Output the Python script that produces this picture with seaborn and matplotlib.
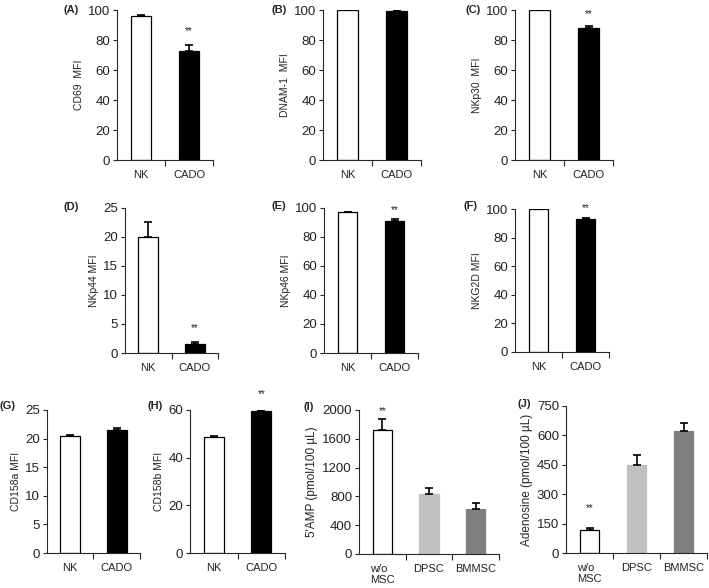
"""
Recreation of the NK receptor / adenosine bar panel figure.
"""
import numpy as np
import matplotlib
matplotlib.use("Agg")
import matplotlib.pyplot as plt
import seaborn as sns

sns.set_style("ticks")
plt.rcParams['font.family'] = ['Liberation Sans', 'DejaVu Sans']

# ---- data -----------------------------------------------------------------
cats_nk = ["NK", "CADO"]
cats_msc = ["w/o\nMSC", "DPSC", "BMMSC"]

cd69_mean, cd69_err = [96, 73], [1.0, 4.0]
dnam1_mean, dnam1_err = [100, 99.5], [0.3, 0.3]
nkp30_mean, nkp30_err = [100, 88], [0.2, 1.6]
nkp44_mean, nkp44_err = [20, 1.5], [2.6, 0.4]
nkp46_mean, nkp46_err = [97, 91], [0.3, 1.1]
nkg2d_mean, nkg2d_err = [100, 93], [0.2, 0.8]
cd158a_mean, cd158a_err = [20.4, 21.5], [0.3, 0.4]
cd158b_mean, cd158b_err = [48.5, 59.5], [0.6, 0.3]
amp_mean, amp_err = [1720, 840, 630], [150, 70, 80]
ado_mean, ado_err = [115, 450, 625], [15, 50, 40]

# which bar carries "**" (index into categories) or None
cd69_sig, dnam1_sig, nkp30_sig = 1, None, 1
nkp44_sig, nkp46_sig, nkg2d_sig = 1, 1, 1
cd158a_sig, cd158b_sig, amp_sig, ado_sig = None, 1, 0, 0

# ---- styling --------------------------------------------------------------
W, H = 709, 588
fill_nk = ["white", "black"]
edge_nk = ["black", "black"]
fill_msc = ["white", "#c0c0c0", "#7f7f7f"]
edge_msc = ["black", "#c0c0c0", "#7f7f7f"]
TXT = "#222222"


def rect(left, right, top, bottom):
    return [left / W, 1 - bottom / H, (right - left) / W, (bottom - top) / H]


def draw_panel(fig, box, letter, letter_xy, cats, means, errs, fills, edges,
               ylabel, yticks, sig, star_off, ylabel_size=7.5):
    ax = fig.add_axes(rect(*box))
    pal = dict(zip(cats, fills))
    sns.barplot(x=cats, y=means, hue=cats, palette=pal, legend=False,
                width=0.42, ax=ax, linewidth=0.9, saturation=1, errorbar=None)
    for cont, ec in zip(ax.containers, edges):
        for p in cont:
            p.set_edgecolor(ec)
    x = np.arange(len(cats))
    ax.errorbar(x, means, yerr=[np.zeros(len(errs)), errs], fmt="none",
                ecolor="black", elinewidth=1.2, capsize=3, capthick=1.2)
    ax.set_xlim(-0.5, len(cats) - 0.5)
    ax.set_ylim(0, yticks[-1])
    ax.set_yticks(yticks)
    ax.set_xticks(x)
    ax.set_xticklabels(cats, fontsize=8, color=TXT)
    ax.set_xticks(np.arange(len(cats)) + 0.5, minor=True)
    ax.tick_params(axis="x", which="major", length=0, pad=7)
    ax.tick_params(axis="x", which="minor", length=4, width=0.8, direction="out")
    ax.tick_params(axis="y", length=3, width=0.8, labelsize=9.5, pad=2,
                   labelcolor=TXT)
    for lbl in ax.get_xticklabels():
        lbl.set_multialignment("left")
    ax.set_ylabel(ylabel, fontsize=ylabel_size, labelpad=3, color=TXT)
    ax.set_xlabel("")
    sns.despine(ax=ax)
    for s in ("left", "bottom"):
        ax.spines[s].set_linewidth(0.8)
    if sig is not None:
        ax.annotate("**", xy=(sig, means[sig] + errs[sig]), xytext=(0, star_off),
                    textcoords="offset points", ha="center", va="center",
                    fontsize=7, annotation_clip=False)
    fig.text(letter_xy[0] / W, 1 - letter_xy[1] / H, letter,
             fontsize=8, fontweight="bold", ha="left", va="center")
    return ax


fig = plt.figure(figsize=(W / 100, H / 100), dpi=100)

t100 = [0, 20, 40, 60, 80, 100]
draw_panel(fig, (117, 213, 10, 160), "(A)", (63, 10), cats_nk, cd69_mean, cd69_err,
           fill_nk, edge_nk, "CD69  MFI", t100, cd69_sig, 10)
draw_panel(fig, (323, 421, 10, 160), "(B)", (272, 10), cats_nk, dnam1_mean, dnam1_err,
           fill_nk, edge_nk, "DNAM-1  MFI", t100, dnam1_sig, 9)
draw_panel(fig, (515, 613, 10, 160), "(C)", (466, 10), cats_nk, nkp30_mean, nkp30_err,
           fill_nk, edge_nk, "NKp30  MFI", t100, nkp30_sig, 8)

draw_panel(fig, (125, 218, 208, 353), "(D)", (63, 207), cats_nk, nkp44_mean, nkp44_err,
           fill_nk, edge_nk, "NKp44 MFI", [0, 5, 10, 15, 20, 25], nkp44_sig, 10)
draw_panel(fig, (324, 418, 208, 353), "(E)", (272, 206), cats_nk, nkp46_mean, nkp46_err,
           fill_nk, edge_nk, "NKp46 MFI", t100, nkp46_sig, 7)
draw_panel(fig, (515, 609, 209, 352), "(F)", (464, 206), cats_nk, nkg2d_mean, nkg2d_err,
           fill_nk, edge_nk, "NKG2D MFI", t100, nkg2d_sig, 7)

draw_panel(fig, (47, 140, 410, 553), "(G)", (0, 406), cats_nk, cd158a_mean, cd158a_err,
           fill_nk, edge_nk, "CD158a MFI", [0, 5, 10, 15, 20, 25], cd158a_sig, 8)
draw_panel(fig, (190, 285, 410, 553), "(H)", (148, 406), cats_nk, cd158b_mean, cd158b_err,
           fill_nk, edge_nk, "CD158b MFI", [0, 20, 40, 60], cd158b_sig, 12)
draw_panel(fig, (359, 499, 410, 554), "(I)", (303, 407), cats_msc, amp_mean, amp_err,
           fill_msc, edge_msc, "5'AMP (pmol/100 \u00b5L)", [0, 400, 800, 1200, 1600, 2000],
           amp_sig, 6, ylabel_size=8.5)
draw_panel(fig, (566, 707, 406, 553), "(J)", (517, 404), cats_msc, ado_mean, ado_err,
           fill_msc, edge_msc, "Adenosine (pmol/100 \u00b5L)", [0, 150, 300, 450, 600, 750],
           ado_sig, 14, ylabel_size=8.5)

fig.savefig("out.png", dpi=100)
plt.close(fig)
